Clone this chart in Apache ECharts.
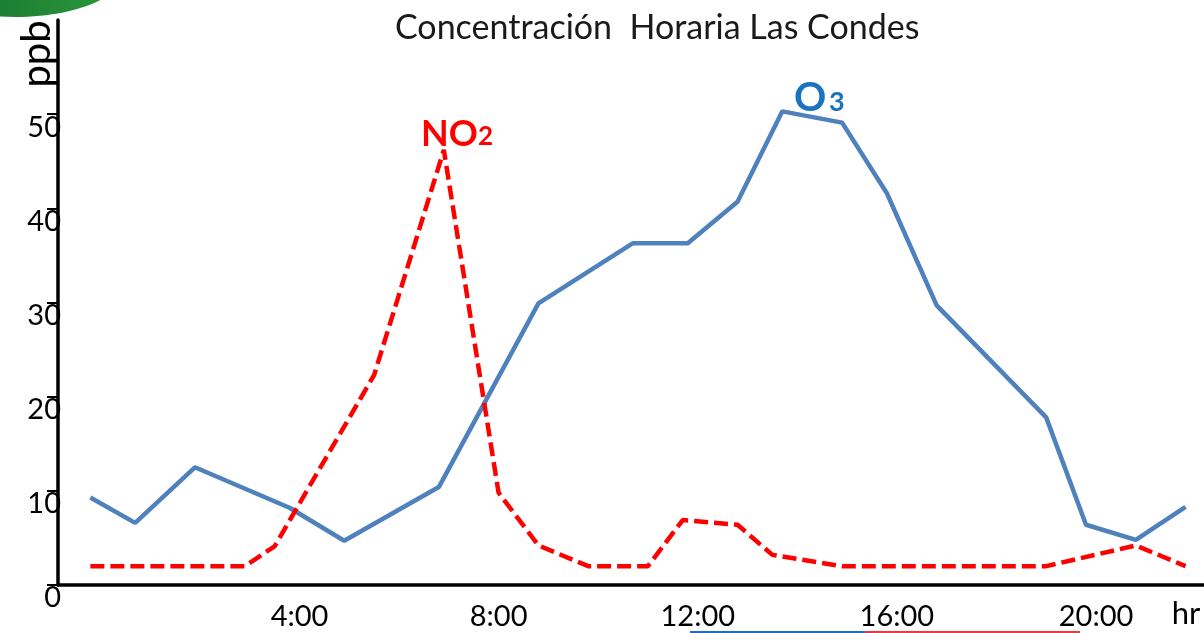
<!DOCTYPE html>
<html>
<head>
<meta charset="utf-8">
<title>Concentración Horaria Las Condes</title>
<script src="https://cdn.jsdelivr.net/npm/echarts@6/dist/echarts.min.js"></script>
<style>
  html, body { margin: 0; padding: 0; background: #fff; }
  #chart { width: 1204px; height: 633px; }
</style>
</head>
<body>
<div id="chart"></div>
<script>
// ── Data (hour of day, ppb) ──────────────────────────────────────────────────
const o3Hours = [0, 0.9, 2.1, 4.0, 5.1, 7.0, 9.0, 10.9, 12.0, 13.0, 13.9, 15.1, 16.0, 17.0, 19.2, 20.0, 21.0, 22.0];
const o3Values = [9.3, 6.6, 12.5, 8.2, 4.7, 10.4, 29.9, 36.3, 36.3, 40.7, 50.3, 49.1, 41.6, 29.7, 17.8, 6.4, 4.8, 8.3];

const no2Hours = [0, 3.1, 3.7, 5.7, 7.1, 8.2, 9.0, 10.0, 11.2, 11.9, 13.0, 13.7, 15.1, 19.2, 21.0, 22.0];
const no2Values = [2.0, 2.0, 4.1, 22.3, 46.2, 9.8, 4.2, 2.0, 2.0, 6.9, 6.4, 3.2, 2.0, 2.0, 4.2, 2.0];

const xLabelHours = [4, 8, 12, 16, 20];
const yMin = 0, yMax = 60, yStep = 10;

const FONT = "Lato, 'Liberation Sans', sans-serif";

const chart = echarts.init(document.getElementById("chart"));

const pairs = (xs, ys) => xs.map((x, i) => [x, ys[i]]);

chart.setOption({
  animation: false,
  backgroundColor: "#fff",
  grid: {
    left: 58, right: 0, top: 20, bottom: 48,
    containLabel: false,
    outerBoundsMode: "none",
  },
  xAxis: {
    type: "value",
    min: -0.65,
    max: 22.37,
    splitLine: { show: false },
    axisLine: { show: true, onZero: false, lineStyle: { color: "#000", width: 3.5 } },
    axisTick: { show: false },
    axisLabel: {
      customValues: xLabelHours,
      formatter: (v) => v + ":00",
      color: "#000",
      fontFamily: FONT,
      fontSize: 29,
      margin: 17,
      padding: [0, 0, 0, 20],
    },
  },
  yAxis: {
    type: "value",
    min: yMin,
    max: yMax,
    interval: yStep,
    splitLine: { show: false },
    axisLine: { show: true, onZero: false, lineStyle: { color: "#000", width: 3.5 } },
    axisTick: { show: true, length: 11, lineStyle: { color: "#000", width: 2 } },
    axisLabel: {
      showMaxLabel: false,
      margin: -3,
      formatter: (v) => "{n|" + v + "}",
      rich: {
        n: {
          color: "#000",
          fontFamily: FONT,
          fontSize: 29,
          padding: [26, 0, 0, 0],
        },
      },
    },
  },
  series: [
    {
      name: "O3",
      type: "line",
      data: pairs(o3Hours, o3Values),
      showSymbol: false,
      lineStyle: { color: "#4f81bd", width: 4.5 },
      z: 3,
    },
    {
      name: "NO2",
      type: "line",
      data: pairs(no2Hours, no2Values),
      showSymbol: false,
      lineStyle: { color: "#ff0000", width: 4.5, type: [14, 6] },
      z: 4,
    },
  ],
  graphic: [
    // green logo corner
    {
      type: "ellipse",
      shape: { cx: 15, cy: -29, rx: 110, ry: 46 },
      style: {
        fill: new echarts.graphic.LinearGradient(0, 0, 1, 0, [
          { offset: 0, color: "#0b6a2c" },
          { offset: 1, color: "#2f9a3c" },
        ]),
      },
      z: 0,
    },
    {
      type: "text",
      left: 395,
      top: 11,
      style: {
        text: "Concentración  Horaria Las Condes",
        fontFamily: FONT,
        fontSize: 34,
        fill: "#1a1a1a",
      },
    },
    {
      type: "text",
      x: 37,
      y: 54,
      rotation: Math.PI / 2,
      style: {
        text: "ppb",
        fontFamily: FONT,
        fontSize: 40,
        fill: "#000",
        align: "center",
        verticalAlign: "middle",
      },
    },
    {
      type: "text",
      x: 1186,
      y: 614,
      style: {
        text: "hr",
        fontFamily: FONT,
        fontSize: 31,
        fill: "#000",
        align: "center",
        verticalAlign: "middle",
      },
    },
    // series labels
    {
      type: "text",
      x: 421,
      y: 134,
      style: {
        text: "NO",
        fontFamily: FONT,
        fontWeight: "bold",
        fontSize: 36,
        fill: "#ff0000",
        align: "left",
        verticalAlign: "middle",
      },
    },
    {
      type: "text",
      x: 478,
      y: 137,
      style: {
        text: "2",
        fontFamily: FONT,
        fontWeight: "bold",
        fontSize: 26,
        fill: "#ff0000",
        align: "left",
        verticalAlign: "middle",
      },
    },
    {
      type: "text",
      x: 794,
      y: 98,
      style: {
        text: "O",
        fontFamily: FONT,
        fontWeight: "bold",
        fontSize: 40,
        fill: "#1a72c2",
        align: "left",
        verticalAlign: "middle",
      },
    },
    {
      type: "text",
      x: 829,
      y: 102,
      style: {
        text: "3",
        fontFamily: FONT,
        fontWeight: "bold",
        fontSize: 27,
        fill: "#1a72c2",
        align: "left",
        verticalAlign: "middle",
      },
    },
    // coloured underline at the bottom edge
    {
      type: "line",
      shape: { x1: 690, y1: 632, x2: 865, y2: 632 },
      style: { stroke: "#1f6fc0", lineWidth: 2 },
    },
    {
      type: "line",
      shape: { x1: 865, y1: 632, x2: 1080, y2: 632 },
      style: { stroke: "#e53a3f", lineWidth: 2 },
    },
  ],
});

window.addEventListener("resize", () => chart.resize());
</script>
</body>
</html>
